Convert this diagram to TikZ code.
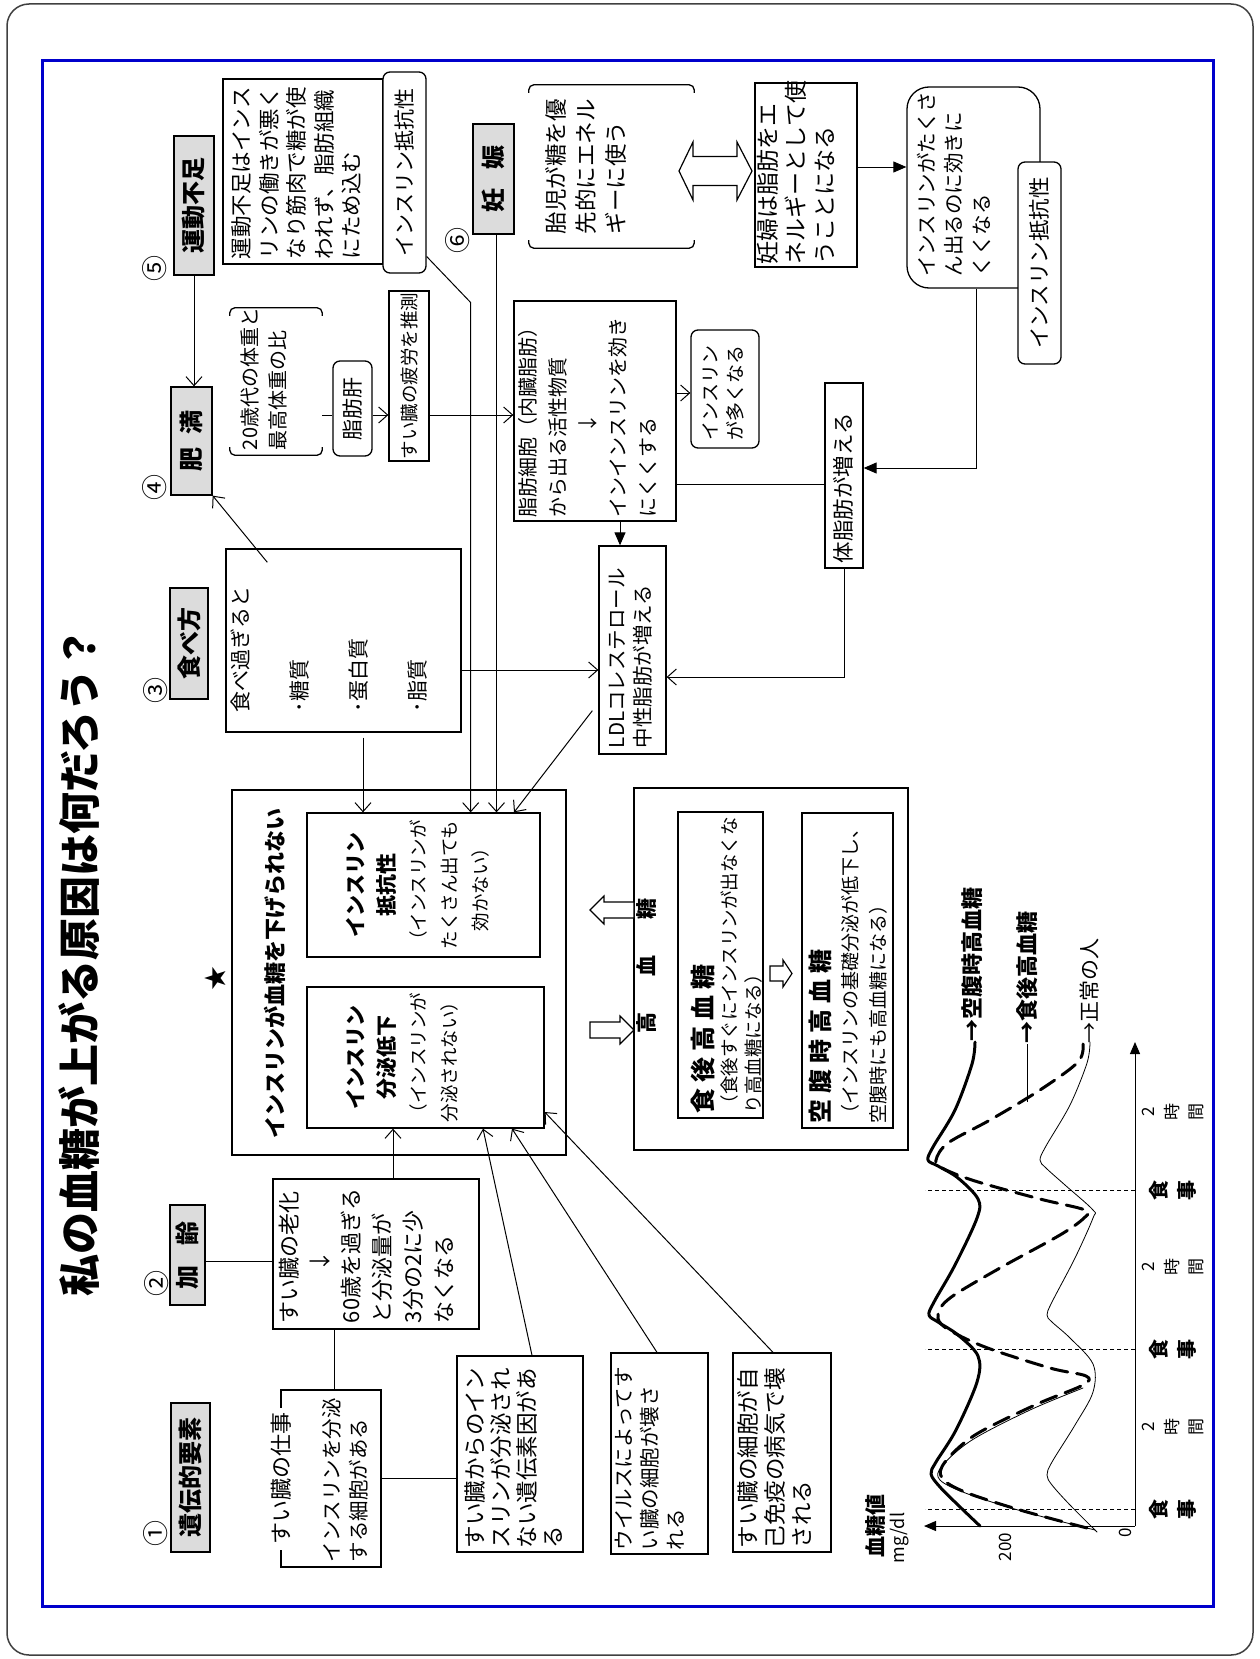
\documentclass[tikz,border=0pt]{standalone}
\usepackage{fontspec}
\setmainfont{Noto Sans CJK JP}
\usetikzlibrary{arrows.meta,calc}
\definecolor{hdgray}{RGB}{220,220,220}
\definecolor{frameblue}{RGB}{0,0,204}
\newcommand{\fsz}[2]{\fontsize{#1pt}{#2pt}\selectfont}
% box text: width, height, top pad, left pad, text
\newcommand{\tb}[5]{\parbox[c][#2pt][t]{#1pt}{\raggedright\leftskip=#4pt\vspace*{#3pt}#5\par}}
\newcommand{\tc}[4]{\parbox[c][#2pt][t]{#1pt}{\centering\vspace*{#3pt}#4\par}}

\begin{document}
\begin{tikzpicture}[x=1pt,y=1pt,
  rot/.style={rotate=90},
  bx/.style={rot,draw,line width=1.3pt,inner sep=0pt},
  rbx/.style={bx,rounded corners=7pt},
  hd/.style={rot,draw,line width=1.3pt,fill=hdgray,inner sep=0pt,font=\fsz{24}{26}\bfseries},
  brk/.style={line width=1.3pt,rounded corners=5pt},
  lbl/.style={rot,inner sep=0pt},
  num/.style={lbl,font=\fsz{26}{28}},
  con/.style={line width=1pt},
  hollow/.style={draw,line width=1.2pt,fill=white},
  tri/.style={con,-{Triangle[length=13pt,width=11pt]}},
  curve/.style={line join=round,line cap=round},
  >={Straight Barb[length=9pt,width=16pt]}]

\useasboundingbox (0,0) rectangle (1260,-1659);
\draw[line width=1.5pt,black!75,rounded corners=22pt] (7,-4) rectangle (1253,-1655);
\draw[line width=3pt,frameblue] (42,-61) rectangle (1213,-1606);

% title
\node[lbl,font=\fsz{42}{44}\bfseries] (title) at (79,-962) {私の血糖が上がる原因は何だろう？};

% causes
\node[hd,minimum width=149pt,minimum height=39pt] (idenhd) at (190.5,-1477.5) {遺伝的要素};
\node[hd,minimum width=100pt,minimum height=35pt] (kareihd) at (187.5,-1255) {加\hspace{20pt}齢};
\node[hd,minimum width=111pt,minimum height=38pt] (tabehd) at (189,-643.5) {食べ方};
\node[hd,minimum width=108pt,minimum height=41pt] (himanhd) at (191.5,-441) {肥\hspace{13pt}満};
\node[hd,minimum width=139pt,minimum height=40pt] (undohd) at (194,-205.5) {運動不足};
\node[hd,minimum width=110pt,minimum height=41pt] (ninhd) at (493.5,-179) {妊\hspace{19pt}娠};
\node[num] (n1) at (156,-1533) {①};
\node[num] (n2) at (157,-1283) {②};
\node[num] (n3) at (156,-690) {③};
\node[num] (n4) at (155,-487) {④};
\node[num] (n5) at (155,-268) {⑤};
\node[num] (n6) at (458,-240) {⑥};

% upper boxes
\node[bx,font=\fsz{21.5}{27.5}] (undotxt) at (303,-171.5) {\tb{185}{160}{9}{5}{運動不足はインス\\リンの働きが悪く\\なり筋肉で糖が使\\われず、脂肪組織\\にため込む}};
\node[rbx,fill=white,minimum width=201pt,minimum height=43pt,font=\fsz{21}{22}] (teiko1) at (404.5,-172.5) {インスリン抵抗性};
\node[lbl,font=\fsz{22.5}{30}] (taiji) at (611.5,-166.5) {\tb{163}{165}{16}{14}{胎児が糖を優\\先的にエネル\\ギーに使う}};
\draw[brk] ([yshift=-8pt]taiji.north east) -- (taiji.north east) -- (taiji.south east) -- ([yshift=-8pt]taiji.south east);
\draw[brk] ([yshift=8pt]taiji.north west) -- (taiji.north west) -- (taiji.south west) -- ([yshift=8pt]taiji.south west);
\coordinate (dbl) at (715.5,-171);
\draw[hollow] (dbl) ++(-36.5,0) -- ++(14,29) -- ++(0,-14.5) -- ++(44,0) -- ++(0,14.5) -- ++(15,-29) -- ++(-15,-29) -- ++(0,14.5) -- ++(-44,0) -- ++(0,-14.5) -- cycle;
\node[bx,font=\fsz{23}{28.5}] (ninpu) at (806,-175) {\tb{184}{102}{2}{3}{妊婦は脂肪をエ\\ネルギーとして使\\うことになる}};
\node[bx,rounded corners=22pt,font=\fsz{20.5}{27.5}] (nintxt) at (973.5,-187.5) {\tb{201}{133}{10}{12}{インスリンがたくさ\\ん出るのに効きに\\くくなる}};
\node[rbx,fill=white,minimum width=202pt,minimum height=43pt,font=\fsz{21.5}{22}] (teiko2) at (1039.5,-263) {インスリン抵抗性};

\node[lbl,font=\fsz{20}{28}] (himtxt) at (276,-381.5) {\tb{147}{92}{11}{5}{20歳代の体重と\\最高体重の比}};
\draw[brk] ([yshift=-8pt]himtxt.north east) -- (himtxt.north east) -- (himtxt.south east) -- ([yshift=-8pt]himtxt.south east);
\draw[brk] ([yshift=8pt]himtxt.north west) -- (himtxt.north west) -- (himtxt.south west) -- ([yshift=8pt]himtxt.south west);
\node[rbx,minimum width=95pt,minimum height=39pt,font=\fsz{21}{22}] (shibokan) at (352.5,-408.5) {脂肪肝};
\node[bx,minimum width=170pt,minimum height=40pt,font=\fsz{18.5}{20}] (hiro) at (409,-376) {すい臓の疲労を推測};
\node[bx,font=\fsz{20}{30}] (shibo) at (595,-411) {\tb{220}{162}{4}{4}{脂肪細胞（内臓脂肪）\\から出る活性物質\\\hspace*{84pt}↓\\インインスリンを効き\\にくくする}};
\node[rbx,font=\fsz{19}{25}] (tasu) at (725,-389) {\tb{118}{68}{12}{8}{インスリン\\が多くなる}};
\node[bx,font=\fsz{21.5}{24}] (taishibo) at (844,-475.5) {\tb{185}{38}{8}{5}{体脂肪が増える}};
\node[bx,font=\fsz{20.5}{26}] (ldl) at (632.5,-650) {\tb{208}{67}{10}{6}{LDLコレステロール\\中性脂肪が増える}};
\node[bx,font=\fsz{21}{29.5}] (tabetxt) at (343.5,-640.5) {\tb{183}{235}{5}{20}{食べ過ぎると\\[29.5pt]･糖質\\[29.5pt]･蛋白質\\[29.5pt]･脂質}};

% centre
\node[bx,minimum width=365pt,minimum height=334pt] (starbox) at (399,-972.5) {};
\node[lbl,font=\fsz{22}{24}\bfseries] (kagenai) at (275,-973.5) {インスリンが血糖を下げられない};
\node[lbl,font=\fsz{24}{26}] (star) at (215,-978) {★};
\node[bx,font=\fsz{18.5}{31}] (inner1) at (423.5,-885) {\tc{144}{233}{39}{{\bfseries\fsz{21}{31}インスリン}\\{\bfseries\fsz{21}{31}抵抗性}\\（インスリンが\\たくさん出ても\\効かない）}};
\node[bx,font=\fsz{18.5}{31}] (inner2) at (425.5,-1057.5) {\tc{141}{237}{39}{{\bfseries\fsz{21}{31}インスリン}\\{\bfseries\fsz{21}{31}分泌低下}\\（インスリンが\\分泌されない）}};

\node[bx,minimum width=362pt,minimum height=274pt] (koketsu) at (771,-969) {};
\node[lbl,font=\fsz{21}{22}\bfseries] (kohd) at (647,-966) {高\hspace{36pt}血\hspace{36pt}糖};
\node[bx,font=\fsz{18.5}{24}] (shokugo) at (720.5,-965) {\tb{306}{85}{13}{5}{{\bfseries\fsz{25}{24}食\hspace{6pt}後\hspace{6pt}高\hspace{6pt}血\hspace{6pt}糖}\\（食後すぐにインスリンが出なくな\\り高血糖になる）}};
\node[bx,font=\fsz{19}{28}] (kuufuku) at (847.5,-970.5) {\tb{315}{91}{7}{5}{{\bfseries\fsz{24}{28}空\hspace{6pt}腹\hspace{6pt}時\hspace{6pt}高\hspace{6pt}血\hspace{6pt}糖}\\（インスリンの基礎分泌が低下し、\\空腹時にも高血糖になる）}};
\coordinate (arA) at (612,-910);
\draw[hollow] (arA) ++(-22,0) -- ++(14,14) -- ++(0,-6) -- ++(30,0) -- ++(0,-16) -- ++(-30,0) -- ++(0,-6) -- cycle;
\coordinate (arB) at (612,-1030);
\draw[hollow] (arB) ++(22,0) -- ++(-14,14) -- ++(0,-6) -- ++(-30,0) -- ++(0,-16) -- ++(30,0) -- ++(0,-6) -- cycle;
\coordinate (arC) at (781,-973.5);
\draw[hollow] (arC) ++(11,0) -- ++(-9,13.5) -- ++(0,-6) -- ++(-13,0) -- ++(0,-15) -- ++(13,0) -- ++(0,-6) -- cycle;

% lower boxes
\node[bx,font=\fsz{22}{31}] (roka) at (376,-1254) {\tb{150}{206}{6}{6}{すい臓の老化\\\hspace*{51pt}↓\\60歳を過ぎる\\と分泌量が\\3分の2に少\\なくなる}};
\node[bx,font=\fsz{20.5}{27}] (shigoto) at (331,-1478.5) {\tb{177}{100}{41}{5}{インスリンを分泌\\する細胞がある}};
\node[lbl,fill=white,inner xsep=5pt,font=\fsz{22}{24}] (shigotohd) at (281,-1478.5) {すい臓の仕事};
\node[bx,font=\fsz{22.5}{26}] (iden2) at (520,-1454) {\tb{196}{126}{8}{4}{すい臓からのイン\\スリンが分泌され\\ない遺伝素因があ\\る}};
\node[bx,font=\fsz{20.5}{26}] (uirusu) at (659.5,-1453.5) {\tb{201}{97}{4}{4}{ウイルスによってす\\い臓の細胞が壊さ\\れる}};
\node[bx,font=\fsz{22.5}{27}] (jiko) at (782,-1452.5) {\tb{199}{98}{4}{4}{すい臓の細胞が自\\己免疫の病気で壊\\される}};

% connectors
\draw[con,->] (undohd.west) -- (undohd.west |- himanhd.east);
\draw[con,->] ([shift={(42,-14)}]tabetxt.north east) -- (himanhd.south west);
\draw[con,->] (tabetxt.south |- 0,-670) -- (ldl.north |- 0,-670);
\draw[con,->] (taishibo.west) |- (ldl.south |- 0,-677);
\draw[tri] (shibo.west -| 620,0) -- (ldl.east -| 620,0);
\draw[con,->] (shibo.south |- 0,-393) -- (tasu.north |- 0,-393);
\draw[con] (shibo.south |- 0,-484) -- (taishibo.north |- 0,-484);
\draw[tri] (nintxt.west -| 976,0) |- (taishibo.south |- 0,-468);
\draw[tri] (ninpu.south |- 0,-167) -- (nintxt.north |- 0,-167);
\draw[con] (himtxt.south |- 0,-415) -- (shibokan.north |- 0,-415);
\draw[con,->] (shibokan.south |- 0,-415) -- (hiro.north |- 0,-415);
\draw[con,->] (hiro.south |- 0,-415) -- (shibo.north |- 0,-415);
\coordinate (t0) at ([yshift=-84pt]teiko1.south);
\coordinate (t1) at ([shift={(44,-130)}]teiko1.south);
\draw[con,->] (t0) -- (t1) -- (t1 |- inner1.east);
\coordinate (c1) at ([xshift=3pt]ninhd.west);
\draw[con,->] (c1) -- (c1 |- inner1.east);
\coordinate (c2) at ([shift={(19.5,-5)}]tabetxt.west);
\draw[con,->] (c2) -- (c2 |- inner1.east);
\draw[con,->] ([shift={(-6,44)}]ldl.north west) -- (inner1.east -| 514,0);
\draw[con] (kareihd.south |- 0,-1261) -- (roka.north |- 0,-1261);
\draw[con,->] (roka.east -| 393,0) -- (inner2.west -| 393,0);
\draw[con] (roka.west -| 334,0) -- (shigoto.east -| 334,0);
\draw[con] (shigoto.south) -- (shigoto.south -| iden2.north);
\draw[con,->] (iden2.east -| 532,0) -- (inner2.west -| 483,0);
\draw[con,->] (uirusu.east -| 657,0) -- (inner2.west -| 512,0);
\draw[con,->] (jiko.east -| 773,0) -- (inner2.south |- 0,-1112);

% graph
\coordinate (O) at (1135,-1526);
\coordinate (tEnd) at (1135,-1042);
\coordinate (gEnd) at (924,-1526);
\draw[con,-{Triangle[length=12pt,width=10pt]}] (O) -- (tEnd);
\draw[con,-{Triangle[length=12pt,width=10pt]}] (O) -- (gEnd);
\foreach \m in {1509,1349,1190} \draw[line width=0.7pt,dash pattern=on 4pt off 3pt] (O |- 0,-\m) -- (925,-\m);
\draw[curve,line width=3pt] plot[smooth,tension=0.55] coordinates {(980,-1526) (958,-1505) (940,-1487) (931,-1474) (936,-1462) (956,-1430) (977,-1382) (978,-1356) (958,-1335) (938,-1322) (929,-1315) (934,-1302) (955,-1265) (977,-1218) (978,-1199) (958,-1178) (938,-1166) (928,-1160) (933,-1147) (955,-1110) (972,-1064) (975,-1042)};
\draw[curve,line width=3pt,dash pattern=on 17pt off 9pt] plot[smooth,tension=0.55] coordinates {(1087,-1528) (1020,-1510) (965,-1492) (942,-1478) (945,-1462) (975,-1435) (1035,-1405) (1083,-1385) (1086,-1376) (1050,-1368) (985,-1347) (946,-1328) (938,-1315) (950,-1298) (1000,-1268) (1060,-1235) (1084,-1218) (1085,-1210) (1040,-1199) (975,-1181) (942,-1168) (936,-1160) (948,-1143) (990,-1120) (1040,-1090) (1078,-1062) (1083,-1044)};
\draw[curve,line width=0.8pt] plot[smooth,tension=0.55] coordinates {(1095,-1530) (1025,-1512) (968,-1494) (940,-1480) (942,-1466) (972,-1440) (1030,-1410) (1083,-1388)};
\draw[curve,line width=0.8pt] plot[smooth,tension=0.55] coordinates {(1097,-1532) (1070,-1505) (1052,-1485) (1047,-1475) (1052,-1462) (1075,-1425) (1093,-1392) (1093,-1364) (1070,-1338) (1052,-1322) (1047,-1315) (1052,-1302) (1075,-1258) (1093,-1218) (1093,-1210) (1065,-1185) (1046,-1168) (1040,-1160) (1046,-1146) (1070,-1105) (1087,-1063) (1090,-1042)};
\node[lbl,anchor=west,font=\fsz{22}{24}\bfseries] (lab1) at (972,-1042) {→空腹時高血糖};
\node[lbl,anchor=west,font=\fsz{22}{24}\bfseries] (lab2) at (1027,-1044) {→食後高血糖};
\node[lbl,anchor=west,font=\fsz{21}{24}] (lab3) at (1089,-1044) {→正常の人};
\draw[con] (1027,-1102) -- (lab2.west);
\node[lbl,font=\fsz{21}{22}\bfseries] (ylab) at (875,-1526) {血糖値};
\node[lbl,font=\fsz{18}{19}] (unit) at (900,-1538) {mg/dl};
\node[lbl,font=\fsz{17}{18}] (v200) at (1005,-1547) {200};
\node[lbl,font=\fsz{17}{18}] (v0) at (1125,-1533) {0};
\foreach \m/\nm in {1509/ma,1349/mb,1190/mc}
  \node[lbl,align=center,font=\fsz{20}{28}\bfseries] (\nm) at (1173,-\m) {食\\事};
\foreach \m/\nm in {1427/ha,1267/hb,1112/hc}
  \node[lbl,align=center,font=\fsz{17}{24}] (\nm) at (1173,-\m) {2\\時\\間};
\end{tikzpicture}
\end{document}
